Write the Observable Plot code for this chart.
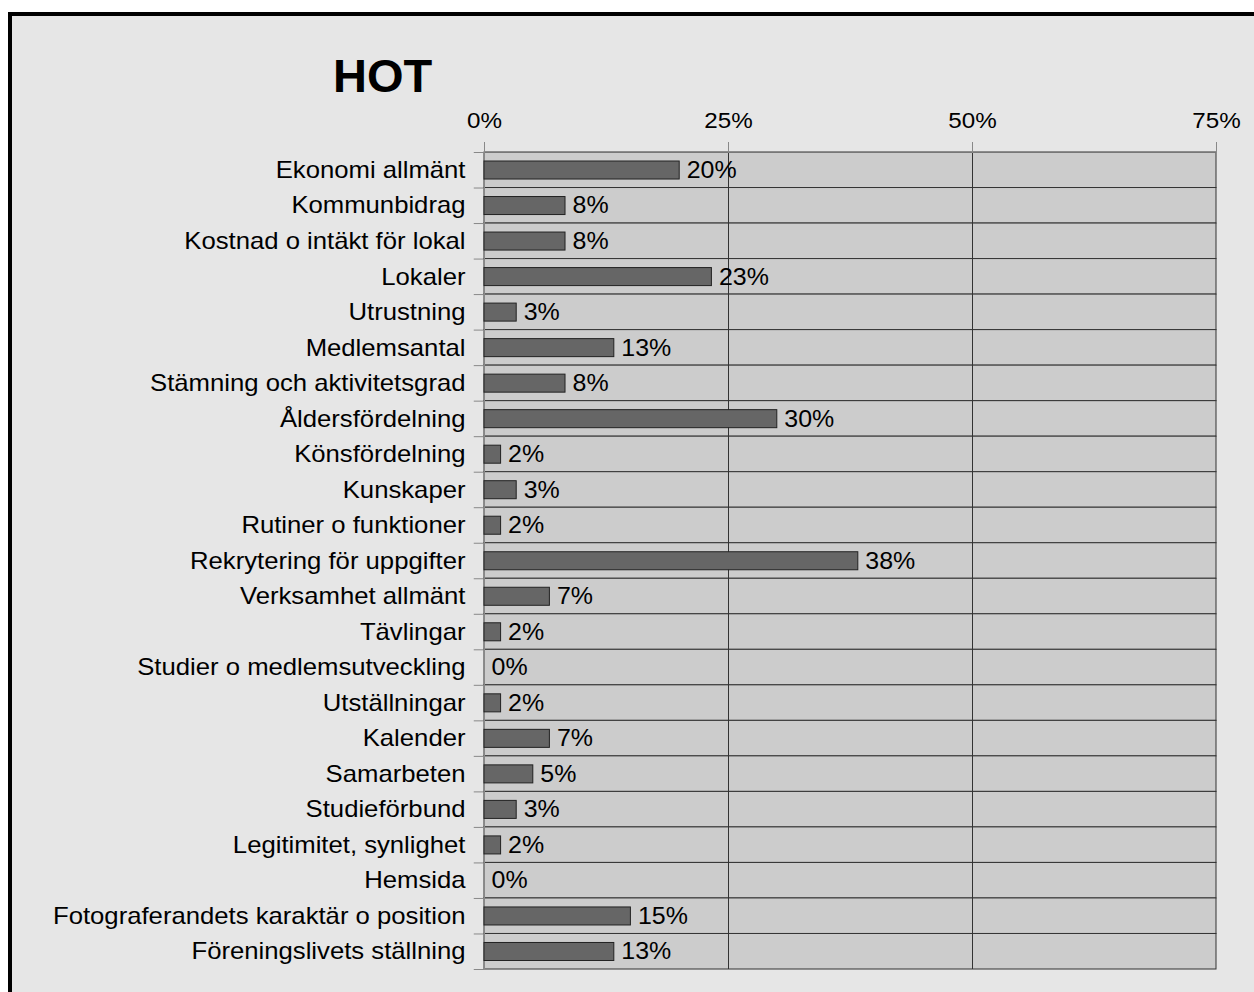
<!DOCTYPE html>
<html>
<head>
<meta charset="utf-8">
<script src="https://cdn.jsdelivr.net/npm/d3@7"></script>
<script src="https://cdn.jsdelivr.net/npm/@observablehq/plot@0.6"></script>
<style>
  html, body { margin: 0; padding: 0; background: #ffffff; overflow: hidden; width: 1254px; height: 992px; }
  #frame { position: absolute; left: 8px; top: 12px; width: 1400px; height: 1100px; border: 4px solid #000; background: #e6e6e6; }
  #title { position: absolute; left: 333px; top: 52px; font: bold 47px "Liberation Sans", Arial, sans-serif; line-height: 1; color: #000; }
  #chart { position: absolute; left: 0; top: 0; }
</style>
</head>
<body>
<div id="frame"></div>
<div id="title">HOT</div>
<div id="chart"></div>
<script>
const categories = [
  "Ekonomi allmänt",
  "Kommunbidrag",
  "Kostnad o intäkt för lokal",
  "Lokaler",
  "Utrustning",
  "Medlemsantal",
  "Stämning och aktivitetsgrad",
  "Åldersfördelning",
  "Könsfördelning",
  "Kunskaper",
  "Rutiner o funktioner",
  "Rekrytering för uppgifter",
  "Verksamhet allmänt",
  "Tävlingar",
  "Studier o medlemsutveckling",
  "Utställningar",
  "Kalender",
  "Samarbeten",
  "Studieförbund",
  "Legitimitet, synlighet",
  "Hemsida",
  "Fotograferandets karaktär o position",
  "Föreningslivets ställning"
];
const values = [20, 8.3, 8.3, 23.3, 3.3, 13.3, 8.3, 30, 1.7, 3.3, 1.7, 38.3, 6.7, 1.7, 0, 1.7, 6.7, 5, 3.3, 1.7, 0, 15, 13.3];
const xTicks = [0, 25, 50, 75];

const data = categories.map((c, i) => ({c, v: values[i]}));

const W = 1254, H = 992;
const mL = 484, mR = 38, mT = 152, mB = 23;
const bw = (H - mT - mB) / categories.length;
const font = '"Liberation Sans", Arial, sans-serif';

const chart = Plot.plot({
  width: W,
  height: H,
  marginLeft: mL,
  marginRight: mR,
  marginTop: mT,
  marginBottom: mB,
  style: {background: "transparent", fontFamily: font, fontSize: "22px", color: "#000"},
  x: {domain: [0, 75], axis: null},
  y: {domain: categories, type: "band", padding: 0, round: false, axis: null},
  marks: [
    // plot area background & row separators
    Plot.barX(categories, {y: d => d, x1: () => 0, x2: () => 75, fill: "#cccccc", stroke: "#333333", strokeWidth: 1}),
    Plot.ruleX([25, 50], {stroke: "#333333", strokeWidth: 1}),
    Plot.ruleX([0], {stroke: "#888888", strokeWidth: 1}),
    Plot.ruleY([0], {y: () => categories[0], dy: -bw / 2, x1: () => 0, x2: () => 75, stroke: "#777777"}),
    // left tick marks at row boundaries
    Plot.ruleY(categories, {y: d => d, x1: () => -1.05, x2: () => 0, dy: -bw / 2, stroke: "#888888"}),
    Plot.ruleY([categories[categories.length - 1]], {y: d => d, x1: () => -1.05, x2: () => 0, dy: bw / 2, stroke: "#888888"}),
    // bars
    Plot.barX(data.filter(d => d.v > 0), {y: "c", x: "v", fill: "#666666", stroke: "#222222", strokeWidth: 1, insetTop: 9, insetBottom: 8.5}),
    // value labels
    Plot.text(data, {y: "c", x: "v", text: d => Math.round(d.v) + "%", dx: 7, textAnchor: "start", fontSize: 24, fill: "#000"}),
    // axes
    Plot.axisX({anchor: "top", ticks: xTicks, tickFormat: d => d + "%", tickSize: 11, tickPadding: 14, stroke: "#888888", fill: "#000", fontSize: 22, label: null}),
    Plot.axisY({anchor: "left", tickSize: 0, tickPadding: 19, fill: "#000", fontSize: 24, label: null})
  ]
});
document.getElementById("chart").appendChild(chart);

// widen glyphs slightly to match the reference's wider text rendering
function stretch(selector, k) {
  chart.querySelectorAll(selector).forEach(t => {
    const w = t.getComputedTextLength();
    if (w > 0) {
      t.setAttribute("textLength", (w * k).toFixed(2));
      t.setAttribute("lengthAdjust", "spacingAndGlyphs");
    }
  });
}
stretch('g[aria-label="y-axis tick label"] text', 1.07);
stretch('g[aria-label="x-axis tick label"] text', 1.1);
stretch('g[aria-label="text"] text', 1.04);
</script>
</body>
</html>
